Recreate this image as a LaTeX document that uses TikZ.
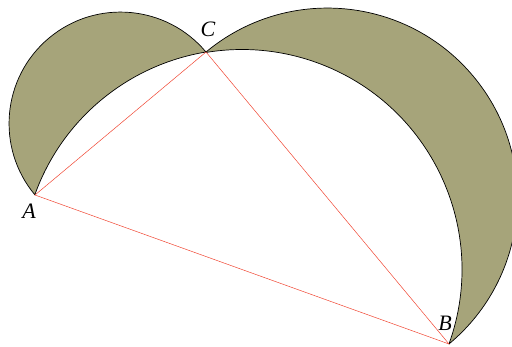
\documentclass[tikz,border=0pt]{standalone}
\usepackage{fontspec}
\setmainfont{Liberation Serif}
\usetikzlibrary{calc}
\definecolor{lune}{RGB}{166,164,122}
\definecolor{tri}{RGB}{240,70,50}
\begin{document}
\begin{tikzpicture}[x=1pt,y=1pt,
  lunestyle/.style={fill=lune,draw=black,line width=0.7pt,line join=round},
  side/.style={draw=tri,line width=0.5pt},
  lab/.style={font=\fontsize{22}{26}\selectfont\itshape,inner sep=0pt}]
\useasboundingbox (0,0) rectangle (512,-347);
\clip (0,0) rectangle (512,-347);
\coordinate (A) at (35,-195);
\coordinate (B) at (449,-344);
\coordinate (C) at (206,-52);
\coordinate (M) at ($(A)!0.5!(B)$);
% lune on AC
\path[lunestyle] let \p1=($(C)-(A)$), \n1={veclen(\x1,\y1)/2}, \n2={atan2(\y1,\x1)},
  \p2=($(A)-(M)$), \p3=($(C)-(M)$), \n3={atan2(\y3,\x3)}, \n4={atan2(\y2,\x2)}, \n5={veclen(\x2,\y2)} in
  (A) arc[start angle=\n2+180, end angle=\n2, radius=\n1]
      arc[start angle=\n3, end angle=\n4, radius=\n5] -- cycle;
% lune on CB
\path[lunestyle] let \p1=($(B)-(C)$), \n1={veclen(\x1,\y1)/2}, \n2={atan2(\y1,\x1)},
  \p2=($(B)-(M)$), \p3=($(C)-(M)$), \n3={atan2(\y3,\x3)}, \n4={atan2(\y2,\x2)}, \n5={veclen(\x2,\y2)} in
  (C) arc[start angle=\n2+180, end angle=\n2, radius=\n1]
      arc[start angle=\n4, end angle=\n3, radius=\n5] -- cycle;
% triangle
\draw[side] (A) -- (B) -- (C) -- cycle;
\node[lab] (la) at (29,-211) {A};
\node[lab] (lb) at (445,-323.5) {B};
\node[lab] (lc) at (208,-29) {C};
\end{tikzpicture}
\end{document}
